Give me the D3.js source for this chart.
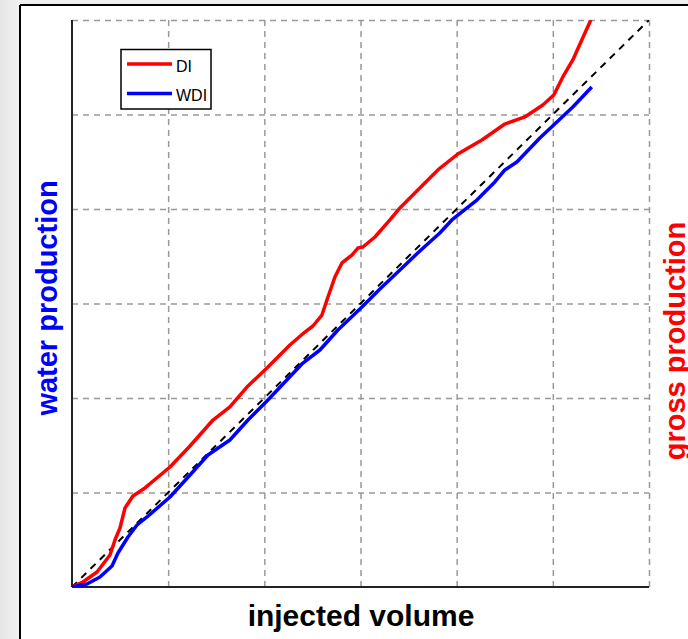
<!DOCTYPE html>
<html><head><meta charset="utf-8">
<script src="https://cdn.jsdelivr.net/npm/d3@7"></script>
<style>body{margin:0;background:#fff}svg{display:block}</style>
</head><body><svg id="c" width="688" height="639"></svg>
<script>
const xTicks = [0, 1, 2, 3, 4, 5, 6];
const yTicks = [0, 1, 2, 3, 4, 5, 6];
const seriesNames = ["DI", "WDI"];
const seriesColors = ["#ff0000", "#0000ff"];
const diX = [0, 0.114, 0.260, 0.395, 0.447, 0.499, 0.551, 0.634, 0.759, 1.019, 1.227, 1.466, 1.642, 1.819, 2.027, 2.266, 2.422, 2.505, 2.599, 2.651, 2.734, 2.807, 2.911, 2.973, 3.025, 3.150, 3.306, 3.410, 3.617, 3.805, 4.012, 4.262, 4.501, 4.709, 4.896, 5.010, 5.104, 5.208, 5.301, 5.395];
const diY = [0, 0.053, 0.159, 0.339, 0.497, 0.624, 0.836, 0.963, 1.048, 1.270, 1.492, 1.767, 1.905, 2.116, 2.317, 2.561, 2.698, 2.762, 2.878, 3.037, 3.280, 3.429, 3.513, 3.587, 3.598, 3.704, 3.884, 4.011, 4.222, 4.413, 4.582, 4.730, 4.899, 4.974, 5.101, 5.206, 5.397, 5.577, 5.788, 6.0];
const wdiX = [0, 0.156, 0.291, 0.416, 0.478, 0.582, 0.676, 0.780, 1.019, 1.227, 1.414, 1.642, 1.830, 2.027, 2.214, 2.401, 2.578, 2.765, 3.015, 3.202, 3.410, 3.617, 3.825, 3.950, 4.210, 4.397, 4.501, 4.626, 4.865, 5.042, 5.208, 5.405];
const wdiY = [0, 0.032, 0.106, 0.222, 0.360, 0.529, 0.656, 0.741, 0.952, 1.185, 1.397, 1.556, 1.767, 1.968, 2.169, 2.370, 2.508, 2.720, 2.963, 3.153, 3.354, 3.556, 3.746, 3.884, 4.095, 4.286, 4.413, 4.497, 4.751, 4.921, 5.079, 5.291];
const refX = [0, 6];
const refY = [0, 6];
const xLabel = "injected volume";
const yLeftLabel = "water production";
const yRightLabel = "gross production";

const W = 688, H = 639;
const L = 72, T = 20, R = 649, B = 587;
const FONT = "'Liberation Sans', Arial, Helvetica, sans-serif";
const svg = d3.select("#c");

// page background and frame
const defs = svg.append("defs");
const g1 = defs.append("linearGradient").attr("id", "bg").attr("x1", 0).attr("x2", 1).attr("y1", 0).attr("y2", 0);
g1.append("stop").attr("offset", "0%").attr("stop-color", "#e6e6e6");
g1.append("stop").attr("offset", "100%").attr("stop-color", "#f1f1f1");
svg.append("rect").attr("x", 0).attr("y", 0).attr("width", W).attr("height", H).attr("fill", "#efefef");
svg.append("rect").attr("x", 0).attr("y", 0).attr("width", 20).attr("height", H).attr("fill", "url(#bg)");
svg.append("rect").attr("x", 20).attr("y", 5).attr("width", W - 20).attr("height", H - 5).attr("fill", "#ffffff");
svg.append("line").attr("x1", 20).attr("x2", W).attr("y1", 5).attr("y2", 5).attr("stroke", "#000").attr("stroke-width", 2);
svg.append("line").attr("x1", 20).attr("x2", 20).attr("y1", 5).attr("y2", H).attr("stroke", "#000").attr("stroke-width", 2);

const x = d3.scaleLinear().domain([xTicks[0], xTicks[xTicks.length - 1]]).range([L, R]);
const y = d3.scaleLinear().domain([yTicks[0], yTicks[yTicks.length - 1]]).range([B, T]);

// grid via axes
const gx = svg.append("g").attr("transform", `translate(0,${B})`)
  .call(d3.axisBottom(x).tickValues(xTicks.slice(1)).tickSize(-(B - T)).tickFormat(""));
const gy = svg.append("g").attr("transform", `translate(${L},0)`)
  .call(d3.axisLeft(y).tickValues(yTicks.slice(1)).tickSize(-(R - L)).tickFormat(""));
[gx, gy].forEach(g => {
  g.select(".domain").remove();
  g.selectAll(".tick line").attr("stroke", "#999").attr("stroke-width", 1.5).attr("stroke-dasharray", "6,5");
});

// axis lines
svg.append("line").attr("x1", L).attr("x2", L).attr("y1", T).attr("y2", B).attr("stroke", "#222").attr("stroke-width", 2);
svg.append("line").attr("x1", L).attr("x2", R).attr("y1", B).attr("y2", B).attr("stroke", "#222").attr("stroke-width", 2);

defs.append("clipPath").attr("id", "clip").append("rect").attr("x", L).attr("y", T).attr("width", R - L).attr("height", B - T);
const plot = svg.append("g").attr("clip-path", "url(#clip)");
const line = d3.line().x(d => x(d[0])).y(d => y(d[1]));

plot.append("path").datum(refX.map((v, i) => [v, refY[i]]))
  .attr("d", line).attr("fill", "none").attr("stroke", "#000").attr("stroke-width", 2).attr("stroke-dasharray", "7,6");
plot.append("path").datum(diX.map((v, i) => [v, diY[i]]))
  .attr("d", line).attr("fill", "none").attr("stroke", seriesColors[0]).attr("stroke-width", 3.5).attr("stroke-linejoin", "round");
plot.append("path").datum(wdiX.map((v, i) => [v, wdiY[i]]))
  .attr("d", line).attr("fill", "none").attr("stroke", seriesColors[1]).attr("stroke-width", 3.5).attr("stroke-linejoin", "round");

// legend
const lg = svg.append("g");
lg.append("rect").attr("x", 121).attr("y", 49.5).attr("width", 90).attr("height", 59.5).attr("fill", "#fff").attr("stroke", "#000").attr("stroke-width", 1.5);
seriesNames.forEach((n, i) => {
  const yy = 64 + i * 29.5;
  lg.append("line").attr("x1", 127).attr("x2", 172).attr("y1", yy).attr("y2", yy).attr("stroke", seriesColors[i]).attr("stroke-width", 3.5);
  lg.append("text").attr("x", 176).attr("y", yy + 7.5).attr("font-family", FONT).attr("font-size", 16).attr("fill", "#000").text(n);
});

// axis titles
svg.append("text").attr("x", 361).attr("y", 626).attr("text-anchor", "middle")
  .attr("font-family", FONT).attr("font-weight", "bold").attr("font-size", 30).attr("fill", "#000").text(xLabel);
svg.append("text").attr("transform", "translate(57,298) rotate(-90)").attr("text-anchor", "middle")
  .attr("font-family", FONT).attr("font-weight", "bold").attr("font-size", 29).attr("fill", "#0000ff").text(yLeftLabel);
svg.append("text").attr("transform", "translate(685,341) rotate(-90)").attr("text-anchor", "middle")
  .attr("font-family", FONT).attr("font-weight", "bold").attr("font-size", 29).attr("fill", "#ff0000").text(yRightLabel);
</script></body></html>
